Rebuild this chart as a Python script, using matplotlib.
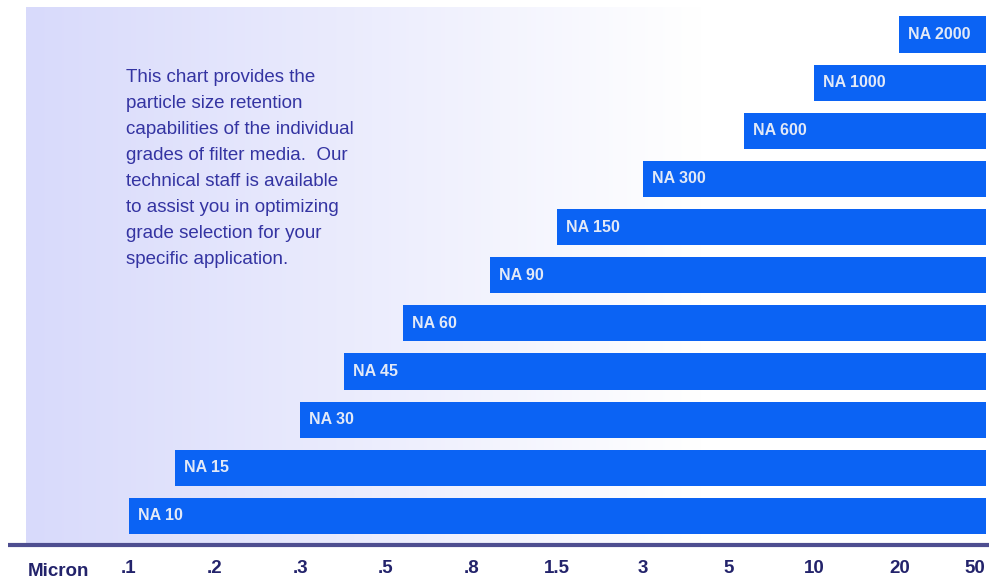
import numpy as np
import matplotlib
matplotlib.use("Agg")
import matplotlib.pyplot as plt

# ---- data ----
grades = ["NA 10", "NA 15", "NA 30", "NA 45", "NA 60", "NA 90",
          "NA 150", "NA 300", "NA 600", "NA 1000", "NA 2000"]
retention_micron = [0.1, 0.145, 0.3, 0.39, 0.55, 0.92, 1.5, 3, 5.7, 10, 20]
bar_end_micron = 50
tick_values = [0.1, 0.2, 0.3, 0.5, 0.8, 1.5, 3, 5, 10, 20, 50]
tick_labels = [".1", ".2", ".3", ".5", ".8", "1.5", "3", "5", "10", "20", "50"]
axis_title = "Micron"
note_lines = ["This chart provides the",
              "particle size retention",
              "capabilities of the individual",
              "grades of filter media.  Our",
              "technical staff is available",
              "to assist you in optimizing",
              "grade selection for your",
              "specific application."]

plt.rcParams['font.family'] = ['Liberation Sans', 'DejaVu Sans']

W, H = 989, 581
fig = plt.figure(figsize=(W / 100, H / 100), dpi=100)
fig.patch.set_facecolor('white')

# axes area = lavender panel vertical extent (pixels 7..545 from top)
ax_bottom = (H - 545) / H
ax_top = (H - 7) / H
ax = fig.add_axes([0, ax_bottom, 1, ax_top - ax_bottom])
ax.set_facecolor('white')

log_ticks = np.log(tick_values)
def pos(v):
    return np.interp(np.log(v), log_ticks, np.arange(len(tick_values)))

px0, step = 129.0, 85.6
ax.set_xlim(-px0 / step, (W - px0) / step)
row_step = 48.15
ax.set_ylim((516 - 545) / row_step, (516 - 7) / row_step)

# gradient background panel
x0f = 26 / W
ncol = 400
xs = np.linspace(0, 1, ncol)
xpix = 26 + xs * (W - 26)
t = np.clip((xpix - 26) / (700 - 26), 0, 1)
left = np.array([216, 218, 251]) / 255
grad = left[None, :] * (1 - t[:, None]) + np.ones(3)[None, :] * t[:, None]
img = grad[None, :, :]
ax.imshow(img, extent=[x0f, 1, 0, 1], transform=ax.transAxes, aspect='auto',
          zorder=0, interpolation='bilinear')

# bars
ys = np.arange(len(grades))
starts = pos(np.array(retention_micron))
end = pos(bar_end_micron) + 0.01
ax.barh(ys, end - starts, left=starts, height=0.75, color='#0B63F4',
        edgecolor='none', zorder=2)
for y, s, g in zip(ys, starts, grades):
    ax.annotate(g, (s, y), xytext=(6.5, 0), textcoords='offset points',
                ha='left', va='center', fontsize=11.5, fontweight='bold',
                color='#E2E9F7', zorder=3)

# bottom rule
ax.plot([8 / W, 1], [0, 0], transform=ax.transAxes, color='#4E4E90',
        lw=3, clip_on=False, zorder=4, solid_capstyle='butt')

# ticks
ax.set_xticks(pos(np.array(tick_values)))
ax.set_xticklabels(tick_labels, fontsize=13.5, fontweight='bold', color='#23236B')
ax.tick_params(axis='x', length=0, pad=11)
lbls = ax.get_xticklabels()
lbls[-1].set_horizontalalignment('right')
lbls[-1].set_x(pos(50) + 0.03)
ax.set_yticks([])
ax.text((58 - px0) / step, -(571 - 545) / 538, axis_title,
        transform=ax.get_xaxis_transform(),
        ha='center', va='center', fontsize=13.5, fontweight='bold', color='#23236B')
for sp in ax.spines.values():
    sp.set_visible(False)

# note text
for j, line in enumerate(note_lines):
    ypix = 77 + 26.1 * j
    fig.text(126 / W, 1 - ypix / H, line, ha='left', va='center',
             fontsize=13.5, color='#3434A2')

fig.savefig('out.png', dpi=100, facecolor='white')
